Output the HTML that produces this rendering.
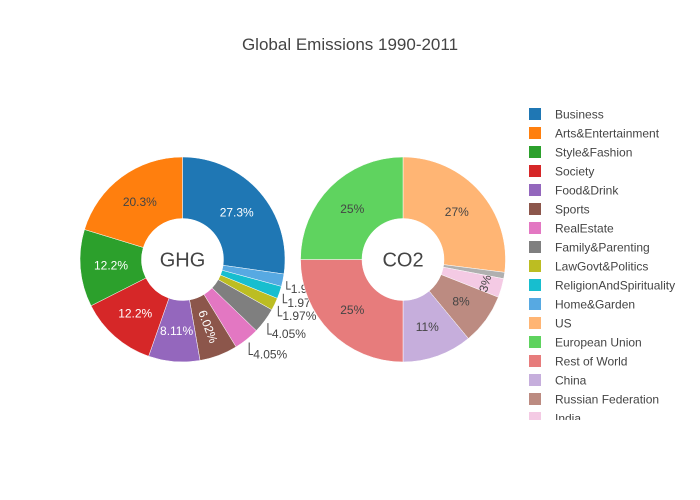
<!DOCTYPE html>
<html><head><meta charset="utf-8"><style>
body{margin:0;background:#fff;}
svg{display:block;font-family:"Liberation Sans","DejaVu Sans",sans-serif;}
</style></head><body>
<svg id="chart" width="700" height="500">
<rect width="700" height="500" fill="#fff"/>
<text x="350" y="50" text-anchor="middle" font-size="17" fill="#444">Global Emissions 1990-2011</text>
<g id="pies"></g>
<g id="legend"></g>
</svg>
<script>
const ghgLabels=["Business","Home&Garden","ReligionAndSpirituality","LawGovt&Politics","Family&Parenting","RealEstate","Sports","Food&Drink","Society","Style&Fashion","Arts&Entertainment"];
const ghgValues=[27.3,1.97,1.97,1.97,4.05,4.05,6.02,8.11,12.2,12.2,20.3];
const ghgColors=["#1f77b4","#57a9e2","#17becf","#bcbd22","#7f7f7f","#e377c2","#8c564b","#9467bd","#d62728","#2ca02c","#ff7f0e"];
const co2Labels=["US","Japan","India","Russian Federation","China","Rest of World","European Union"];
const co2Values=[27,1,3,8,11,25,25];
const co2Colors=["#ffb574","#b0b0b0","#f4cae4","#bc8b81","#c6aedc","#e77c7c","#5fd35f"];
const legendLabels=["Business","Arts&Entertainment","Style&Fashion","Society","Food&Drink","Sports","RealEstate","Family&Parenting","LawGovt&Politics","ReligionAndSpirituality","Home&Garden","US","European Union","Rest of World","China","Russian Federation","India"];
const legendColors=["#1f77b4","#ff7f0e","#2ca02c","#d62728","#9467bd","#8c564b","#e377c2","#7f7f7f","#bcbd22","#17becf","#57a9e2","#ffb574","#5fd35f","#e77c7c","#c6aedc","#bc8b81","#f4cae4"];
const NS="http://www.w3.org/2000/svg";
const pies=document.getElementById('pies');
function mk(t,a,p){const e=document.createElementNS(NS,t);for(const k in a)e.setAttribute(k,a[k]);(p||pies).appendChild(e);return e;}
function pt(cx,cy,r,a){return [cx+r*Math.sin(a),cy-r*Math.cos(a)];}
function norm(d){d=((d%360)+360)%360;if(d>180)d-=360;if(d>90)d-=180;if(d<-90)d+=180;return d;}
function drawPie(cx,cy,R,r,vals,cols,names,center,key){
  const tot=vals.reduce((a,b)=>a+b,0);
  let a0=0;
  const g=mk('g',{});
  
  
  const labels=[];
  vals.forEach((v,i)=>{
    const a1=a0+v/tot*2*Math.PI;
    const [x0,y0]=pt(cx,cy,R,a0),[x1,y1]=pt(cx,cy,R,a1),[x2,y2]=pt(cx,cy,r,a1),[x3,y3]=pt(cx,cy,r,a0);
    const lg=(a1-a0)>Math.PI?1:0;
    const p=mk('path',{d:`M${x0},${y0}A${R},${R} 0 ${lg} 1 ${x1},${y1}L${x2},${y2}A${r},${r} 0 ${lg} 0 ${x3},${y3}Z`,fill:cols[i],stroke:'#fff','stroke-width':0.5},g);
    
    
    labels.push({pct:v/tot*100,v:v,am:(a0+a1)/2,i});
    a0=a1;
  });
  let k=0;
  labels.forEach(L=>{
    const txt=key==='ghg'?(+L.v.toPrecision(3))+'%':Math.round(L.pct)+'%';
    if(L.pct>=5||(key==='co2'&&L.pct>=2)){
      const [x,y]=pt(cx,cy,(R+r)/2+(L.pct<5?14:0),L.am);
      const dark=['#1f77b4','#d62728','#9467bd','#8c564b','#2ca02c'].includes(cols[L.i]);
      const t=mk('text',{x:x,y:y+4,'text-anchor':'middle','font-size':12,fill:dark?'#fff':'#444'},g);
      let rot=0;
      const deg=L.am*180/Math.PI;
      if(L.pct<7){rot=key==='ghg'?norm(deg-90)+180:norm(deg);}
      if(rot)t.setAttribute('transform',`rotate(${rot%360===0?0:norm(rot)} ${x} ${y})`);
      t.textContent=txt;
      
      
    }else if(key==='ghg'){
      const [bx,by]=pt(cx,cy,R+4,L.am);
      const ly=by+8+k;k++;
      mk('path',{d:`M${bx},${by}L${bx},${ly}L${bx+4},${ly}`,stroke:'#444',fill:'none','stroke-width':1},g);
      const t=mk('text',{x:bx+4,y:ly+4,'font-size':12,fill:'#444'},g);
      t.textContent=txt;
      
      
    }
  });
  const c=mk('text',{x:cx,y:cy+7,'text-anchor':'middle','font-size':20,fill:'#444'},g);
  c.textContent=center;
  
  
}
drawPie(182.5,259.5,102.5,41,ghgValues,ghgColors,ghgLabels,'GHG','ghg');
drawPie(403,259.5,102.5,41,co2Values,co2Colors,co2Labels,'CO2','co2');
const lg=document.getElementById('legend');
const clip=mk('clipPath',{id:'lclip'},lg);mk('rect',{x:520,y:100,width:180,height:320},clip);
const lgi=mk('g',{'clip-path':'url(#lclip)'},lg);
legendLabels.forEach((n,i)=>{
  const y=114+i*19;
  const e=mk('g',{},lgi);
  
  
  mk('rect',{x:529,y:y-6,width:12,height:12,fill:legendColors[i]},e);
  const t=mk('text',{x:555,y:y+4.5,'font-size':12,fill:'#444'},e);
  t.textContent=n;
});
</script>
</body></html>
